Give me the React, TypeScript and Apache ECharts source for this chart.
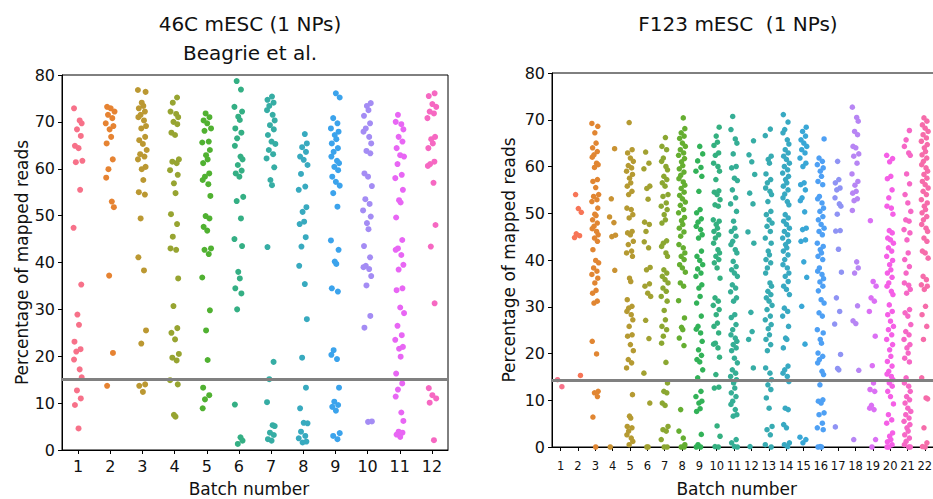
import React, { useEffect, useRef } from "react";
import * as echarts from "echarts";

// ---------- texts ----------
const LEFT_TITLE = "46C mESC (1 NPs)\nBeagrie et al.";
const RIGHT_TITLE = "F123 mESC  (1 NPs)";
const X_NAME = "Batch number";
const Y_NAME = "Percentage of mapped reads";

// ---------- axes ----------
const Y_MIN = 0;
const Y_MAX = 80;
const Y_STEP = 10;
const LEFT_BATCHES = ["1", "2", "3", "4", "5", "6", "7", "8", "9", "10", "11", "12"];
const RIGHT_BATCHES = [
  "1", "2", "3", "4", "5", "6", "7", "8", "9", "10", "11",
  "12", "13", "14", "15", "16", "17", "18", "19", "20", "21", "22",
];
const LEFT_THRESHOLD = 15;
const RIGHT_THRESHOLD = 14.3;

// ---------- left panel: 46C mESC ----------
const L1 = [72.9, 70.3, 69.7, 68.4, 67.0, 64.9, 64.4, 61.7, 61.4, 55.5, 47.4, 35.3, 28.9, 26.7, 23.1, 21.5, 21.0, 19.3, 17.2, 15.5, 12.7, 11.0, 9.6, 4.6];
const L2 = [73.2, 72.9, 72.2, 71.5, 70.8, 69.7, 69.1, 68.4, 66.8, 65.4, 62.0, 59.9, 58.1, 53.0, 51.8, 37.2, 20.7, 13.7];
const L3 = [76.8, 76.4, 74.1, 73.4, 72.9, 72.2, 71.5, 71.0, 70.3, 69.1, 68.6, 66.8, 66.1, 65.3, 64.0, 63.1, 62.6, 62.0, 60.4, 59.9, 57.6, 55.0, 54.5, 49.4, 41.1, 38.3, 25.5, 22.7, 14.0, 13.7, 12.4];
const L4 = [75.2, 74.1, 72.2, 71.7, 71.0, 70.0, 69.5, 67.7, 67.2, 62.0, 61.5, 61.2, 59.7, 58.7, 56.9, 54.8, 50.3, 48.2, 45.5, 43.0, 42.7, 36.6, 30.7, 26.0, 25.0, 23.6, 20.5, 19.7, 19.1, 14.9, 14.0, 7.5, 7.1];
const L5 = [71.8, 71.0, 70.3, 69.7, 68.6, 68.1, 65.8, 65.6, 64.0, 62.9, 62.0, 61.2, 59.0, 58.3, 57.6, 56.7, 54.2, 49.9, 49.4, 47.6, 46.8, 43.0, 42.7, 41.8, 36.8, 29.8, 25.5, 19.2, 13.3, 11.7, 10.8, 8.9];
const L6 = [78.7, 76.9, 73.2, 72.2, 71.1, 70.4, 68.6, 67.7, 66.5, 64.9, 62.6, 62.0, 60.8, 59.6, 59.0, 58.3, 54.0, 53.1, 49.4, 45.0, 43.5, 38.0, 36.6, 34.5, 33.4, 30.0, 9.7, 2.7, 2.0, 1.3];
const L7 = [75.4, 74.7, 74.1, 73.4, 72.5, 71.5, 70.3, 69.3, 68.4, 67.2, 65.8, 65.3, 64.0, 63.1, 62.2, 60.3, 57.6, 56.5, 43.3, 18.8, 15.1, 10.2, 5.3, 5.1, 3.7, 3.2, 2.3, 2.0];
const L8 = [67.4, 65.4, 64.6, 63.6, 62.6, 61.9, 60.8, 58.9, 56.2, 55.5, 51.8, 50.8, 48.7, 48.2, 45.4, 43.4, 39.3, 35.4, 27.9, 19.7, 13.3, 8.9, 5.8, 5.7, 3.9, 3.0, 2.5, 1.8, 1.6];
const L9 = [76.1, 75.2, 70.8, 69.7, 68.6, 67.9, 67.2, 66.3, 65.4, 64.4, 63.6, 62.6, 61.7, 61.2, 60.4, 59.7, 58.3, 57.2, 56.4, 54.8, 51.9, 44.7, 42.7, 40.2, 39.7, 34.5, 33.8, 21.3, 20.3, 19.4, 13.3, 10.3, 9.6, 9.2, 8.4, 3.6, 3.0, 2.3];
const L10 = [74.0, 73.4, 72.5, 71.3, 69.7, 68.6, 67.9, 66.8, 65.4, 63.8, 63.3, 59.0, 58.3, 56.3, 53.5, 52.5, 51.1, 49.8, 48.4, 47.1, 43.5, 41.1, 39.3, 39.0, 38.6, 37.1, 35.1, 28.6, 26.1, 6.0, 6.1];
const L11 = [71.5, 70.0, 69.5, 68.4, 66.8, 65.8, 64.4, 62.9, 62.6, 61.0, 58.7, 58.0, 55.5, 53.3, 52.8, 49.6, 44.8, 43.0, 42.7, 41.6, 39.5, 38.5, 34.5, 34.1, 30.4, 29.2, 26.5, 24.5, 23.5, 22.0, 21.6, 19.9, 16.3, 14.2, 12.9, 11.4, 8.0, 6.2, 3.9, 3.7, 3.3, 2.8];
const L12 = [76.1, 75.5, 73.8, 73.2, 72.2, 71.8, 70.8, 66.8, 66.3, 65.4, 64.4, 61.5, 61.0, 60.6, 57.0, 48.0, 43.4, 31.3, 13.2, 11.7, 11.0, 10.1, 2.1];

// ---------- right panel: F123 mESC ----------
const R1 = [14.4, 12.9];
const R2 = [54.0, 51.0, 50.2, 45.6, 45.2, 44.8, 15.3];
const R3 = [69.2, 68.6, 67.2, 65.0, 64.0, 63.2, 62.5, 62.0, 60.7, 60.4, 59.8, 57.2, 56.8, 55.5, 54.0, 53.6, 52.9, 52.5, 51.1, 49.8, 49.5, 48.6, 47.9, 47.2, 46.7, 46.1, 45.4, 44.7, 44.0, 42.2, 39.9, 39.4, 38.3, 37.6, 36.9, 36.1, 35.1, 33.5, 32.9, 31.2, 30.8, 22.6, 19.9, 11.9, 11.6, 10.8, 6.4, 0];
const R4 = [63.8, 53.1, 49.2, 48.0, 45.3, 45.0, 37.8, 0];
const R5 = [69.4, 63.6, 62.9, 61.8, 61.1, 60.2, 59.7, 59.0, 58.3, 57.5, 56.5, 55.8, 54.7, 54.0, 51.1, 50.8, 49.7, 49.0, 46.1, 45.8, 45.4, 44.0, 43.3, 41.9, 41.5, 40.8, 36.1, 35.4, 31.5, 30.1, 29.7, 29.0, 28.3, 27.2, 25.8, 24.0, 23.7, 21.9, 20.6, 18.7, 18.0, 16.9, 11.2, 6.6, 6.2, 4.4, 4.1, 3.4, 2.6, 1.9, 1.2, 0.5];
const R6 = [63.1, 60.7, 59.5, 55.8, 55.3, 53.0, 48.1, 47.6, 46.1, 43.9, 42.6, 38.4, 37.9, 34.9, 34.4, 32.9, 32.2, 27.1, 23.2, 15.8, 9.4, 0, 0];
const R7 = [66.2, 64.3, 63.6, 61.8, 61.1, 60.0, 59.3, 57.9, 57.2, 56.5, 55.8, 54.0, 53.6, 52.2, 51.5, 50.8, 49.7, 48.6, 47.9, 44.1, 43.6, 42.9, 41.5, 40.8, 37.9, 37.2, 36.5, 35.8, 35.1, 34.0, 33.3, 32.2, 31.2, 29.2, 27.2, 25.8, 25.1, 23.7, 22.2, 18.1, 13.7, 11.9, 11.6, 9.4, 8.9, 4.4, 3.7, 3.4, 1.6, 0, 0];
const R8 = [70.4, 68.1, 67.2, 66.5, 66.0, 65.0, 64.3, 63.6, 62.9, 62.4, 61.7, 61.0, 60.2, 59.5, 58.8, 58.1, 57.4, 56.7, 56.0, 55.3, 54.5, 53.8, 53.1, 52.4, 51.7, 50.8, 50.1, 49.1, 48.4, 47.6, 46.8, 46.0, 45.1, 43.3, 42.6, 41.5, 40.8, 40.1, 39.0, 38.3, 37.4, 35.1, 34.4, 31.3, 27.6, 25.6, 25.1, 23.3, 21.7, 8.0, 3.4, 1.9, 0.5, 0, 0];
const R9 = [64.3, 62.7, 61.2, 59.8, 59.0, 57.9, 54.7, 50.8, 50.1, 48.8, 48.1, 47.2, 46.5, 45.4, 44.7, 41.9, 40.8, 39.9, 39.0, 38.1, 37.2, 36.5, 34.7, 34.0, 32.2, 30.8, 28.0, 25.8, 25.2, 24.4, 22.6, 20.8, 19.6, 18.7, 18.2, 16.5, 14.8, 11.9, 10.8, 9.8, 9.4, 8.2, 7.6, 2.7, 0.5, 0, 0];
const R10 = [68.4, 66.5, 65.2, 64.5, 62.9, 62.4, 60.7, 60.0, 59.0, 57.2, 54.8, 54.5, 54.0, 52.9, 51.8, 51.5, 48.6, 48.3, 47.6, 46.8, 46.1, 45.4, 44.7, 43.6, 42.2, 41.5, 40.8, 40.1, 39.4, 38.3, 36.1, 31.9, 31.2, 30.3, 29.4, 28.3, 26.5, 25.8, 24.4, 22.2, 22.0, 21.2, 19.2, 15.5, 12.8, 12.6, 4.5, 2.3, 0.1, 0];
const R11 = [70.7, 67.9, 65.9, 65.0, 62.7, 60.0, 59.7, 57.5, 57.0, 55.0, 53.3, 52.0, 50.4, 48.3, 46.8, 46.1, 45.1, 44.0, 43.3, 42.2, 41.5, 39.7, 38.6, 37.9, 37.2, 36.5, 34.7, 34.0, 33.2, 31.9, 31.2, 28.3, 27.7, 26.2, 25.1, 24.0, 23.3, 22.6, 21.9, 21.2, 20.6, 19.0, 18.0, 16.5, 15.8, 15.1, 14.4, 13.7, 12.6, 11.6, 10.8, 9.8, 9.1, 8.0, 6.9, 6.6, 1.6, 0.9, 0.1, 0];
const R12 = [65.5, 62.5, 61.0, 58.3, 54.3, 52.0, 46.0, 43.6, 28.8, 24.7, 23.0, 16.9, 0.1];
const R13 = [68.0, 66.6, 62.2, 61.5, 60.7, 58.4, 57.2, 56.5, 55.4, 54.7, 54.0, 52.5, 50.4, 49.7, 48.6, 47.9, 47.2, 46.1, 44.7, 43.6, 41.9, 41.1, 40.1, 39.4, 38.3, 37.2, 35.1, 34.4, 33.3, 32.6, 31.9, 31.2, 30.3, 29.4, 28.0, 27.2, 26.2, 25.3, 24.0, 23.0, 21.9, 20.6, 16.9, 15.8, 14.4, 13.3, 12.3, 10.5, 8.3, 4.4, 3.7, 2.6, 0.5, 0];
const R14 = [71.1, 69.5, 67.9, 67.2, 65.7, 64.8, 63.6, 62.9, 62.2, 61.5, 60.7, 60.0, 59.3, 58.6, 57.9, 57.2, 56.5, 55.8, 55.0, 54.1, 53.3, 52.5, 51.8, 49.7, 49.0, 48.3, 47.6, 46.8, 46.1, 45.4, 44.7, 44.0, 43.3, 42.6, 41.9, 41.1, 40.1, 39.0, 38.3, 37.2, 36.5, 35.4, 34.4, 33.7, 32.6, 29.7, 29.0, 28.0, 25.8, 23.3, 23.0, 21.2, 17.3, 16.5, 15.8, 15.1, 14.0, 8.3, 8.0, 4.8, 4.1, 0.9, 0.5, 0.1];
const R15 = [68.4, 67.5, 66.5, 65.7, 65.0, 64.3, 63.6, 62.9, 61.8, 60.7, 60.0, 56.5, 56.1, 55.0, 53.3, 52.7, 50.3, 46.8, 46.5, 44.3, 44.0, 39.6, 36.3, 30.1, 22.0, 2.1, 1.6, 0.9];
const R16 = [65.9, 61.8, 61.1, 60.4, 59.7, 59.0, 57.9, 56.8, 56.1, 53.6, 53.1, 52.2, 51.1, 50.4, 49.3, 48.6, 47.6, 46.8, 46.1, 45.4, 43.6, 42.9, 42.2, 41.5, 40.8, 40.1, 38.3, 37.6, 36.9, 36.0, 35.3, 34.4, 33.4, 31.5, 30.8, 28.7, 28.0, 25.1, 24.4, 23.0, 22.2, 20.1, 19.4, 18.7, 18.0, 16.2, 15.5, 13.3, 10.1, 9.8, 9.4, 7.3, 6.9, 5.1, 4.1, 3.7, 0.1, 0, 0];
const R17 = [61.1, 57.2, 56.5, 55.4, 55.0, 53.3, 52.0, 51.5, 49.8, 46.3, 46.2, 42.3, 37.4, 31.9, 29.0, 26.3, 19.8, 16.8, 16.5, 4.3];
const R18 = [72.7, 70.5, 69.7, 67.5, 66.8, 64.3, 64.0, 62.7, 62.2, 60.7, 58.4, 56.8, 56.0, 54.7, 54.3, 53.1, 52.7, 50.6, 39.6, 38.3, 37.2, 30.2, 27.0, 26.4, 16.4, 1.6];
const R19 = [48.4, 35.4, 34.4, 31.9, 31.2, 29.0, 23.7, 17.4, 13.7, 12.3, 11.9, 8.9, 8.3, 8.0, 1.6, 0];
const R20 = [62.4, 61.7, 61.0, 57.9, 57.4, 55.0, 53.3, 51.5, 51.1, 49.8, 46.3, 45.8, 44.7, 44.3, 43.6, 42.6, 41.9, 40.8, 39.9, 39.0, 37.9, 37.2, 36.3, 35.1, 34.4, 33.3, 32.6, 30.4, 29.0, 28.3, 26.9, 25.8, 25.1, 24.0, 23.0, 21.9, 20.8, 19.4, 18.3, 17.3, 16.2, 15.6, 15.1, 14.4, 13.7, 13.0, 11.9, 10.8, 9.2, 6.9, 5.8, 5.1, 3.0, 2.3, 1.6, 1.1, 0.5, 0, 0];
const R21 = [67.7, 65.7, 64.3, 62.9, 62.4, 58.4, 56.3, 54.0, 52.2, 50.4, 48.6, 48.3, 46.5, 45.8, 44.3, 41.5, 40.1, 38.6, 37.2, 35.1, 34.6, 33.7, 32.9, 29.4, 28.7, 28.0, 26.2, 24.7, 24.0, 23.0, 21.9, 21.2, 20.1, 19.0, 18.2, 14.8, 13.7, 13.0, 11.9, 10.8, 10.1, 9.4, 8.3, 7.6, 6.9, 6.2, 5.5, 4.8, 4.1, 3.4, 2.6, 1.9, 1.2, 0.5, 0, 0];
const R22 = [70.4, 69.7, 68.9, 68.2, 67.5, 66.8, 66.1, 65.4, 64.7, 64.0, 63.2, 62.5, 61.8, 61.1, 60.4, 59.7, 59.0, 58.3, 57.5, 56.8, 56.1, 55.4, 54.7, 54.0, 52.9, 52.2, 51.5, 50.8, 50.1, 49.3, 48.6, 47.6, 46.8, 46.1, 44.7, 44.0, 41.9, 41.5, 40.4, 36.5, 35.8, 34.7, 34.4, 33.7, 30.1, 28.3, 25.8, 23.0, 14.8, 10.5, 10.3, 4.1, 0.9, 0.1, 0];

const LEFT_VALUES = [L1, L2, L3, L4, L5, L6, L7, L8, L9, L10, L11, L12];
const RIGHT_VALUES = [R1, R2, R3, R4, R5, R6, R7, R8, R9, R10, R11, R12, R13, R14, R15, R16, R17, R18, R19, R20, R21, R22];

// fixed strip-plot jitter pattern (horizontal spread only, fraction of max offset)
const JITTER = [-0.9, 0.35, 0.8, -0.25, 0.6, -0.7, 0.1, 0.95, -0.5, 0.45, -1.0, 0.7, -0.15, 0.2, -0.8, 0.55, -0.4];

// ---------- seaborn husl palette ----------
const M = [
  [3.240969941904521, -1.537383177570093, -0.498610760293],
  [-0.96924363628087, 1.87596750150772, 0.041555057407175],
  [0.055630079696993, -0.20397695888897, 1.056971514242878],
];
const REF_U = 0.19783000664283;
const REF_V = 0.46831999493879;
const KAPPA = 903.2962962;
const EPS = 0.0088564516;

function maxChroma(L: number, H: number): number {
  const hrad = (H / 360) * 2 * Math.PI;
  const sub1 = Math.pow(L + 16, 3) / 1560896;
  const sub2 = sub1 > EPS ? sub1 : L / KAPPA;
  let min = Infinity;
  for (const [m1, m2, m3] of M) {
    for (const t of [0, 1]) {
      const top1 = (284517 * m1 - 94839 * m3) * sub2;
      const top2 = (838422 * m3 + 769860 * m2 + 731718 * m1) * L * sub2 - 769860 * t * L;
      const bottom = (632260 * m3 - 126452 * m2) * sub2 + 126452 * t;
      const slope = top1 / bottom;
      const intercept = top2 / bottom;
      const len = intercept / (Math.sin(hrad) - slope * Math.cos(hrad));
      if (len >= 0 && len < min) min = len;
    }
  }
  return min;
}

function huslToHex(H: number, S: number, L: number): string {
  const C = (maxChroma(L, H) / 100) * S;
  const hr = (H / 180) * Math.PI;
  const U = Math.cos(hr) * C;
  const V = Math.sin(hr) * C;
  const Y = L <= 8 ? L / KAPPA : Math.pow((L + 16) / 116, 3);
  const varU = U / (13 * L) + REF_U;
  const varV = V / (13 * L) + REF_V;
  const X = (9 * Y * varU) / (4 * varV);
  const Z = (9 * Y - 15 * varV * Y - varV * X) / (3 * varV);
  const xyz = [X, Y, Z];
  const hex = M.map((row) => {
    const lin = row[0] * xyz[0] + row[1] * xyz[1] + row[2] * xyz[2];
    let c = lin <= 0.0031308 ? 12.92 * lin : 1.055 * Math.pow(lin, 1 / 2.4) - 0.055;
    c = Math.min(1, Math.max(0, c));
    return Math.round(c * 255).toString(16).padStart(2, "0");
  });
  return "#" + hex.join("");
}

function huslPalette(n: number): string[] {
  const out: string[] = [];
  for (let i = 0; i < n; i++) {
    const hue = ((i / n + 0.01) % 1) * 359;
    out.push(huslToHex(hue, 0.9 * 99, 0.65 * 99));
  }
  return out;
}

const FONT = "DejaVu Sans";
const TEXT = "#111111";

function buildSeries(
  values: number[][],
  colors: string[],
  xAxisIndex: number,
  yAxisIndex: number,
  spread: number,
  size: number,
  threshold: number
) {
  return values.map((vals, b) => ({
    type: "scatter",
    xAxisIndex,
    yAxisIndex,
    symbol: "circle",
    symbolSize: size,
    itemStyle: { color: colors[b], opacity: 1 },
    silent: true,
    data: vals.map((v, j) => [b + 1 + JITTER[(j + b * 5) % JITTER.length] * spread, v]),
    markLine:
      b === 0
        ? {
            silent: true,
            symbol: "none",
            z: 10,
            label: { show: false },
            lineStyle: { color: "#808080", width: 3, type: "solid" },
            data: [{ yAxis: threshold }],
          }
        : undefined,
  }));
}

function catAxis(gridIndex: number, data: string[], fontSize: number, margin: number, nameGap: number, padRight: number) {
  return {
    type: "category",
    gridIndex,
    data,
    boundaryGap: true,
    name: X_NAME,
    nameLocation: "middle",
    nameGap,
    nameTextStyle: { fontSize: 17, fontFamily: FONT, color: TEXT, padding: [0, padRight, 0, 0] },
    axisLine: { show: true, lineStyle: { color: "#000", width: 1 } },
    axisTick: { show: true, alignWithLabel: true, interval: 0, length: 4, lineStyle: { color: "#000" } },
    axisLabel: { interval: 0, fontSize, margin, color: TEXT, fontFamily: FONT, hideOverlap: false },
    splitLine: { show: false },
  };
}

function valAxis(gridIndex: number, n: number) {
  return { type: "value", gridIndex, min: 0.5, max: n + 0.5, show: false };
}

function yAxis(gridIndex: number, nameGap: number) {
  return {
    type: "value",
    gridIndex,
    min: Y_MIN,
    max: Y_MAX,
    interval: Y_STEP,
    name: Y_NAME,
    nameLocation: "middle",
    nameGap,
    nameRotate: 90,
    nameTextStyle: { fontSize: 17, fontFamily: FONT, color: TEXT },
    axisLine: { show: true, lineStyle: { color: "#000", width: 1 } },
    axisTick: { show: true, length: 4, lineStyle: { color: "#000" } },
    axisLabel: { fontSize: 16, margin: 7, color: TEXT, fontFamily: FONT },
    splitLine: { show: false },
  };
}

export default function App() {
  const ref = useRef<HTMLDivElement>(null);

  useEffect(() => {
    if (!ref.current) return;
    const chart = echarts.init(ref.current, undefined, { renderer: "svg" });
    const leftColors = huslPalette(LEFT_BATCHES.length);
    const rightColors = huslPalette(RIGHT_BATCHES.length);

    const option = {
      animation: false,
      backgroundColor: "#ffffff",
      textStyle: { fontFamily: FONT },
      grid: [
        { left: 62, top: 75, width: 386, height: 375, show: true, borderColor: "#000", borderWidth: 1, backgroundColor: "transparent", outerBoundsMode: "none", containLabel: false },
        { left: 552, top: 73, width: 381.5, height: 374, show: true, borderColor: "#000", borderWidth: 1, backgroundColor: "transparent", outerBoundsMode: "none", containLabel: false },
      ],
      xAxis: [
        catAxis(0, LEFT_BATCHES, 16, 8, 30, 12),
        valAxis(0, LEFT_BATCHES.length),
        catAxis(1, RIGHT_BATCHES, 11.5, 13, 33, 12),
        valAxis(1, RIGHT_BATCHES.length),
      ],
      yAxis: [yAxis(0, 32), yAxis(1, 35)],
      graphic: [
        {
          type: "text",
          x: 250,
          y: 38.5,
          silent: true,
          style: { text: LEFT_TITLE, fontSize: 20, fontFamily: FONT, fill: TEXT, align: "center", verticalAlign: "middle", lineHeight: 29 },
        },
        {
          type: "text",
          x: 738,
          y: 24,
          silent: true,
          style: { text: RIGHT_TITLE, fontSize: 20, fontFamily: FONT, fill: TEXT, align: "center", verticalAlign: "middle" },
        },
      ],
      series: [
        ...buildSeries(LEFT_VALUES, leftColors, 1, 0, 0.14, 6, LEFT_THRESHOLD),
        ...buildSeries(RIGHT_VALUES, rightColors, 3, 1, 0.2, 5.5, RIGHT_THRESHOLD),
      ],
    };
    chart.setOption(option as any);
    return () => chart.dispose();
  }, []);

  return (
    <div
      ref={ref}
      style={{ position: "fixed", left: 0, top: 0, width: 933, height: 499, background: "#fff" }}
    />
  );
}
